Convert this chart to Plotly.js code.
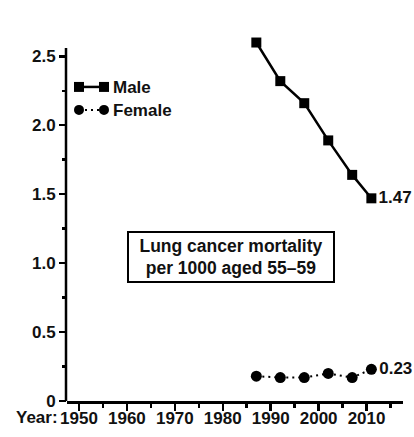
<!DOCTYPE html>
<html>
<head>
<meta charset="utf-8">
<script src="https://cdn.plot.ly/plotly-3.0.1.min.js"></script>
<style>html,body{margin:0;padding:0;background:#fff;}#chart{width:414px;height:437px;}</style>
</head>
<body>
<div id="chart"></div>
<script>
// ---- data ----
var years = [1987, 1992, 1997, 2002, 2007, 2011];
var male = [2.60, 2.32, 2.16, 1.89, 1.64, 1.47];
var female = [0.18, 0.17, 0.17, 0.20, 0.17, 0.23];
var seriesNames = ["Male", "Female"];
var yTickVals = [0, 0.5, 1.0, 1.5, 2.0, 2.5];
var yTickText = ["0", "0.5", "1.0", "1.5", "2.0", "2.5"];
var xTickVals = [1950, 1960, 1970, 1980, 1990, 2000, 2010];
var xTickText = ["1950", "1960", "1970", "1980", "1990", "2000", "2010"];
var boxLines = ["Lung cancer mortality", "per 1000 aged 55\u201359"];

// ---- layout geometry ----
var W = 414, H = 437;
var M = {l: 67, r: 11, t: 37, b: 35.5};
var PW = W - M.l - M.r, PH = H - M.t - M.b;
function px(x) { return (x - M.l) / PW; }
function py(y) { return (H - M.b - y) / PH; }
function b(s) { return "<b>" + s + "</b>"; }

var FONT = "Liberation Sans, Arial, Helvetica, sans-serif";
var lastLabel = function (arr) {
  return arr.map(function (v, i) { return i === arr.length - 1 ? b(v.toFixed(2)) : ""; });
};

var traces = [
  {
    x: years, y: male, name: seriesNames[0], type: "scatter", mode: "lines+markers+text",
    line: {color: "#000", width: 2.5},
    marker: {symbol: "square", size: 10, color: "#000"},
    text: lastLabel(male), textposition: "middle right",
    textfont: {family: FONT, size: 17, color: "#111"},
    cliponaxis: false, showlegend: false
  },
  {
    x: years, y: female, name: seriesNames[1], type: "scatter", mode: "lines+markers+text",
    line: {color: "#000", width: 2, dash: "2px,4px"},
    marker: {symbol: "circle", size: 11, color: "#000"},
    text: lastLabel(female), textposition: "middle right",
    textfont: {family: FONT, size: 17, color: "#111"},
    cliponaxis: false, showlegend: false
  }
];

// legend and axis line drawn as decorations
var shapes = [];
var annotations = [];
function sq(cx, cy, s) {
  return {type: "rect", xref: "paper", yref: "paper",
    x0: px(cx - s / 2), x1: px(cx + s / 2), y0: py(cy + s / 2), y1: py(cy - s / 2),
    fillcolor: "#000", line: {width: 0}};
}
function circ(cx, cy, s) {
  return {type: "circle", xref: "paper", yref: "paper",
    x0: px(cx - s / 2), x1: px(cx + s / 2), y0: py(cy + s / 2), y1: py(cy - s / 2),
    fillcolor: "#000", line: {width: 0}};
}
// y axis line (stops at 2.56, as in the reference)
shapes.push({type: "line", xref: "paper", yref: "y", x0: px(66), x1: px(66), y0: 0, y1: 2.56,
  line: {color: "#000", width: 2.5}});
shapes.push({type: "line", xref: "paper", yref: "paper", x0: px(79), x1: px(104), y0: py(87), y1: py(87),
  line: {color: "#000", width: 2.5}});
shapes.push(sq(79, 87, 10), sq(104, 87, 10));
shapes.push({type: "line", xref: "paper", yref: "paper", x0: px(79), x1: px(104), y0: py(110), y1: py(110),
  line: {color: "#000", width: 2, dash: "2px,4px"}});
shapes.push(circ(79, 110, 10), circ(104, 110, 10));
annotations.push({xref: "paper", yref: "paper", x: px(111), y: py(88), xanchor: "left", yanchor: "middle",
  text: b(seriesNames[0]), showarrow: false, font: {family: FONT, size: 17, color: "#111"}});
annotations.push({xref: "paper", yref: "paper", x: px(111), y: py(111), xanchor: "left", yanchor: "middle",
  text: b(seriesNames[1]), showarrow: false, font: {family: FONT, size: 17, color: "#111"}});
// Year: label
annotations.push({xref: "paper", yref: "paper", x: px(60), y: py(418), xanchor: "right", yanchor: "middle",
  text: b("Year:"), showarrow: false, font: {family: FONT, size: 17, color: "#111"}});
// box
annotations.push({xref: "paper", yref: "paper", x: px(231), y: py(257), xanchor: "center", yanchor: "middle",
  text: boxLines.map(b).join("<br>"), showarrow: false, align: "center",
  width: 200, height: 44, borderpad: 2, borderwidth: 2, bordercolor: "#000", bgcolor: "#fff",
  font: {family: FONT, size: 17.5, color: "#111"}});

var layout = {
  width: W, height: H,
  margin: {l: M.l, r: M.r, t: M.t, b: M.b, pad: 0},
  paper_bgcolor: "#fff", plot_bgcolor: "#fff",
  showlegend: false,
  font: {family: FONT, color: "#111"},
  xaxis: {
    range: [1947.5, 2017.6], tickmode: "array", tickvals: xTickVals, ticktext: xTickText.map(b),
    showgrid: false, zeroline: false, showline: true, linecolor: "#000", linewidth: 2.5,
    ticks: "outside", ticklen: 7, tickwidth: 2.5, tickcolor: "#000",
    ticklabelstandoff: -7,
    minor: {dtick: 5, tick0: 1945, ticks: "outside", ticklen: 4, tickwidth: 2.5, tickcolor: "#000", showgrid: false},
    tickfont: {family: FONT, size: 17, color: "#111"},
    fixedrange: true
  },
  yaxis: {
    range: [0, 2.64], tickmode: "array", tickvals: yTickVals, ticktext: yTickText.map(b),
    showgrid: false, zeroline: false, showline: false,
    ticks: "outside", ticklen: 7, tickwidth: 2.5, tickcolor: "#000",
    minor: {dtick: 0.25, tick0: 0, ticks: "outside", ticklen: 4, tickwidth: 2.5, tickcolor: "#000", showgrid: false},
    tickfont: {family: FONT, size: 17, color: "#111"},
    fixedrange: true
  },
  shapes: shapes,
  annotations: annotations
};

Plotly.newPlot("chart", traces, layout, {staticPlot: true, displayModeBar: false});
</script>
</body>
</html>
